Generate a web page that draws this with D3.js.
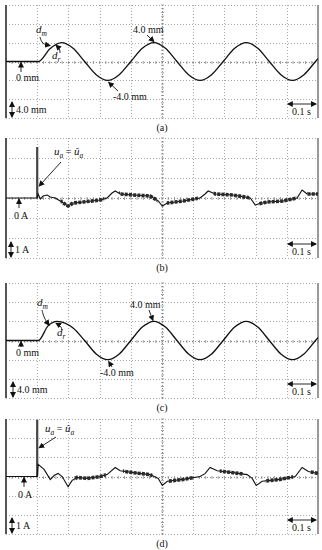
<!DOCTYPE html>
<html>
<head>
<meta charset="utf-8">
<script src="https://cdn.jsdelivr.net/npm/d3@7"></script>
<style>
  body { margin: 0; background: #fff; }
  svg text { font-family: "Liberation Serif", "DejaVu Serif", serif; font-size: 10px; fill: #111; }
</style>
</head>
<body>
<div class="chart"></div>
<script>
// grid divisions: 0.1 s per division
var timeTicks = [-0.1, 0, 0.1, 0.2, 0.3, 0.4, 0.5, 0.6, 0.7, 0.8, 0.9];
var posTicks = [-12, -8, -4, 0, 4, 8, 12];   // mm, 4.0 mm / div
var curTicks = [-3, -2, -1, 0, 1, 2, 3];     // A, 1 A / div

// (a) displacement, mm
var posTimeA = [-0.1, 0.004, 0.041, 0.078, 0.115, 0.152, 0.189, 0.226, 0.263, 0.300, 0.337, 0.374, 0.411, 0.448,
  0.485, 0.522, 0.559, 0.596, 0.633, 0.670, 0.707, 0.744, 0.781, 0.818, 0.855, 0.892, 0.9];
var posA = [0, 0, 2.7, 4.0, 2.8, 0, -2.8, -4.0, -2.8, 0, 2.8, 4.0, 2.8, 0,
  -2.8, -4.0, -2.8, 0, 2.8, 4.0, 2.8, 0, -2.8, -4.0, -2.8, 0, 0.6];

// (c) displacement, mm
var posTimeC = [-0.1, 0.004, 0.034, 0.064, 0.115, 0.152, 0.189, 0.226, 0.263, 0.300, 0.337, 0.374, 0.411, 0.448,
  0.485, 0.522, 0.559, 0.596, 0.633, 0.670, 0.707, 0.744, 0.781, 0.818, 0.855, 0.892, 0.9];
var posC = [0, 0, 3.0, 4.0, 2.6, 0, -2.8, -4.0, -2.8, 0, 2.8, 4.0, 2.8, 0,
  -2.8, -4.0, -2.8, 0, 2.8, 4.0, 2.8, 0, -2.8, -4.0, -2.8, 0, 0.6];

// (b) current, A
var curTimeB = [-0.1, 0, 0.003, 0.010, 0.019, 0.032, 0.042, 0.058, 0.074, 0.099, 0.115, 0.147, 0.202, 0.224, 0.240,
  0.250, 0.266, 0.308, 0.362, 0.388, 0.401, 0.417, 0.468, 0.522, 0.538, 0.548, 0.571, 0.628, 0.683, 0.699,
  0.708, 0.737, 0.788, 0.833, 0.849, 0.865, 0.9];
var curB = [0, 0, 0.2, -0.05, 0.1, 0.15, 0.05, 0, -0.15, -0.4, -0.25, -0.2, -0.1, 0, 0.25,
  0.35, 0.2, 0.15, 0.1, -0.15, -0.4, -0.25, -0.15, 0, 0.2, 0.35, 0.2, 0.15, 0, -0.35,
  -0.3, -0.2, -0.15, 0, 0.4, 0.2, 0.2];
var spikeB = 2.55;
var noisyB = [[0.075, 0.215], [0.262, 0.385], [0.415, 0.515], [0.565, 0.68], [0.71, 0.83], [0.865, 0.9]];

// (d) current, A
var curTimeD = [-0.1, 0, 0.003, 0.022, 0.042, 0.054, 0.067, 0.080, 0.099, 0.112, 0.128, 0.160, 0.202, 0.224, 0.250,
  0.266, 0.308, 0.362, 0.388, 0.401, 0.417, 0.468, 0.522, 0.538, 0.554, 0.577, 0.628, 0.673, 0.689, 0.702,
  0.721, 0.779, 0.827, 0.849, 0.869, 0.9];
var curD = [0, 0, 0.63, 0.37, -0.16, 0.05, 0.16, 0, -0.53, -0.2, -0.05, -0.1, 0, 0.1, 0.47,
  0.3, 0.2, 0.1, -0.1, -0.47, -0.25, -0.15, 0, 0.15, 0.47, 0.3, 0.2, 0.1, -0.1, -0.47,
  -0.25, -0.15, 0, 0.47, 0.26, 0.16];
var spikeD = 2.95;
var noisyD = [[0.12, 0.22], [0.275, 0.37], [0.42, 0.5], [0.585, 0.66], [0.73, 0.82], [0.875, 0.9]];

const svg = d3.select('.chart')
  .append('svg')
    .attr('width', 322)
    .attr('height', 550)
    .style('background', 'white');

const defs = svg.append('defs');
defs.append('marker')
    .attr('id', 'ah')
    .attr('markerUnits', 'userSpaceOnUse')
    .attr('markerWidth', 6).attr('markerHeight', 6)
    .attr('refX', 5).attr('refY', 3)
    .attr('orient', 'auto-start-reverse')
  .append('path')
    .attr('d', 'M0,0 L6,3 L0,6 z')
    .attr('fill', '#111');

const x = d3.scaleLinear().domain([-0.1, 0.9]).range([6, 318]);

function arrow(g, pts, both) {
  g.append('path')
    .attr('d', d3.line().curve(d3.curveBasis)(pts))
    .attr('fill', 'none')
    .attr('stroke', '#111')
    .attr('stroke-width', 0.9)
    .attr('marker-end', 'url(#ah)')
    .attr('marker-start', both ? 'url(#ah)' : null);
}

function sub(g, px, py, main, low) {
  const t = g.append('text').attr('x', px).attr('y', py);
  t.append('tspan').style('font-style', 'italic').style('font-size', '11px').text(main);
  t.append('tspan').attr('dy', 3).style('font-style', 'italic').style('font-size', '7.5px').text(low);
  return t;
}

function panel(cfg) {
  const g = svg.append('g');
  const y = d3.scaleLinear().domain(cfg.domain).range([cfg.bottom, cfg.top]);
  const mid = (cfg.domain[0] + cfg.domain[1]) / 2;

  // dotted grid
  g.selectAll('.vg').data(timeTicks.slice(1, -1)).enter()
    .append('line')
      .attr('x1', d => Math.round(x(d)) + 0.5).attr('x2', d => Math.round(x(d)) + 0.5)
      .attr('y1', cfg.top).attr('y2', cfg.bottom)
      .attr('stroke', d => d === 0.4 ? '#888' : '#a8a8a8')
      .attr('stroke-dasharray', '1,2');
  g.selectAll('.hg').data(cfg.ticks).enter()
    .append('line')
      .attr('x1', x(-0.1)).attr('x2', x(0.9))
      .attr('y1', d => Math.round(y(d)) + 0.5).attr('y2', d => Math.round(y(d)) + 0.5)
      .attr('stroke', d => d === mid ? '#888' : '#a8a8a8')
      .attr('stroke-dasharray', '1,2');

  // minor ticks on the centre lines
  const step = (cfg.ticks[1] - cfg.ticks[0]) / 5;
  const vMinor = d3.range(cfg.domain[0], cfg.domain[1] + step / 2, step);
  const tMinor = d3.range(-0.1, 0.9001, 0.02);
  const cy = Math.round(y(mid)) + 0.5, cx = Math.round(x(0.4)) + 0.5;
  g.selectAll('.tm').data(tMinor).enter()
    .append('line')
      .attr('x1', d => x(d)).attr('x2', d => x(d))
      .attr('y1', cy - 1.5).attr('y2', cy + 1.5)
      .attr('stroke', '#888').attr('stroke-width', 0.8);
  g.selectAll('.vm').data(vMinor).enter()
    .append('line')
      .attr('x1', cx - 1.5).attr('x2', cx + 1.5)
      .attr('y1', d => y(d)).attr('y2', d => y(d))
      .attr('stroke', '#888').attr('stroke-width', 0.8);

  // side borders
  g.append('line').attr('x1', x(-0.1)).attr('x2', x(-0.1)).attr('y1', cfg.top).attr('y2', cfg.bottom)
    .attr('stroke', '#555').attr('stroke-width', 2);
  g.append('line').attr('x1', x(0.9)).attr('x2', x(0.9)).attr('y1', cfg.top).attr('y2', cfg.bottom)
    .attr('stroke', '#777').attr('stroke-width', 1.5);

  const pts = cfg.time.map((t, i) => [t, cfg.values[i]]);
  const line = d3.line()
    .x(d => x(d[0])).y(d => y(d[1]))
    .curve(cfg.smooth ? d3.curveMonotoneX : d3.curveLinear);

  if (cfg.spike) {
    g.append('line')
      .attr('x1', x(0)).attr('x2', x(0))
      .attr('y1', y(0)).attr('y2', y(cfg.spike))
      .attr('stroke', '#444').attr('stroke-width', 2.2);
  }

  g.append('path')
    .attr('d', line(pts))
    .attr('fill', 'none')
    .attr('stroke', '#111')
    .attr('stroke-width', cfg.smooth ? 1.3 : 1.1);

  if (cfg.noisy) {
    const clip = defs.append('clipPath').attr('id', 'clip-' + cfg.id);
    clip.selectAll('rect').data(cfg.noisy).enter()
      .append('rect')
        .attr('x', d => x(d[0])).attr('width', d => x(d[1]) - x(d[0]))
        .attr('y', cfg.top).attr('height', cfg.bottom - cfg.top);
    g.append('path')
      .attr('d', line(pts))
      .attr('fill', 'none')
      .attr('clip-path', 'url(#clip-' + cfg.id + ')')
      .attr('stroke', '#2a2a2a')
      .attr('stroke-width', 3.6)
      .attr('stroke-dasharray', '3,1.2');
  }

  // scale marks: amplitude per div and time per div
  const sx = cfg.scaleX;
  arrow(g, [[sx, cfg.bottom - 16], [sx, cfg.bottom - 1]], true);
  g.append('text').attr('x', sx + 4).attr('y', cfg.bottom - 5).text(cfg.perDiv);
  arrow(g, [[x(0.8) + 1, cfg.bottom - 14], [x(0.9) - 2, cfg.bottom - 14]], true);
  g.append('text').attr('x', 292).attr('y', cfg.bottom - 3).text('0.1 s');

  g.append('text')
    .attr('x', 162).attr('y', cfg.bottom + 13)
    .attr('text-anchor', 'middle')
    .text('(' + cfg.id + ')');

  cfg.notes(g, y);
}

panel({
  id: 'a', top: 5, bottom: 118, domain: [-12, 12], ticks: posTicks,
  time: posTimeA, values: posA, smooth: true, scaleX: 12, perDiv: '4.0 mm',
  notes: function(g, y) {
    sub(g, 36, 33, 'd', 'm');
    arrow(g, [[40, 37], [42, 44], [50, y(3.4)]]);
    sub(g, 52, 59, 'd', 'r');
    arrow(g, [[60, 53], [60, 49], [56, y(3.7) + 1]]);
    g.append('text').attr('x', 133).attr('y', 33).text('4.0 mm');
    arrow(g, [[147, 35], [x(0.374), y(4) - 1]]);
    g.append('text').attr('x', 113).attr('y', 100).text('-4.0 mm');
    arrow(g, [[118, 91], [x(0.226) + 1, y(-4) + 2]]);
    g.append('text').attr('x', 16).attr('y', 81).text('0 mm');
    arrow(g, [[21, 72], [21, y(0) + 1]]);
  }
});

panel({
  id: 'b', top: 138, bottom: 258, domain: [-3, 3], ticks: curTicks,
  time: curTimeB, values: curB, smooth: false, spike: spikeB, noisy: noisyB,
  scaleX: 11, perDiv: '1 A',
  notes: function(g, y) {
    const t = sub(g, 54, 155, 'u', 'a');
    t.append('tspan').attr('dy', -3).style('font-size', '10px').text(' = ');
    t.append('tspan').style('font-style', 'italic').style('font-size', '11px').text('û');
    t.append('tspan').attr('dy', 3).style('font-style', 'italic').style('font-size', '7.5px').text('a');
    arrow(g, [[61, 162], [x(0) + 2, y(0.6)]]);
    g.append('text').attr('x', 14).attr('y', 219).text('0 A');
    arrow(g, [[19, 208], [19, y(0) + 1]]);
  }
});

panel({
  id: 'c', top: 283, bottom: 398, domain: [-12, 12], ticks: posTicks,
  time: posTimeC, values: posC, smooth: true, scaleX: 13, perDiv: '4.0 mm',
  notes: function(g, y) {
    sub(g, 37, 306, 'd', 'm');
    arrow(g, [[42, 310], [44, 318], [49, y(3.2)]]);
    sub(g, 57, 336, 'd', 'r');
    arrow(g, [[62, 330], [61, 326], [56, y(3.8) + 1]]);
    g.append('text').attr('x', 130).attr('y', 308).text('4.0 mm');
    arrow(g, [[149, 310], [x(0.374) - 1, y(4) - 1]]);
    g.append('text').attr('x', 100).attr('y', 376).text('-4.0 mm');
    arrow(g, [[112, 367], [x(0.226) + 1, y(-4) + 2]]);
    g.append('text').attr('x', 16).attr('y', 356).text('0 mm');
    arrow(g, [[21, 347], [21, y(0) + 1]]);
  }
});

panel({
  id: 'd', top: 419, bottom: 534, domain: [-3, 3], ticks: curTicks,
  time: curTimeD, values: curD, smooth: false, spike: spikeD, noisy: noisyD,
  scaleX: 12, perDiv: '1 A',
  notes: function(g, y) {
    const t = sub(g, 45, 432, 'u', 'a');
    t.append('tspan').attr('dy', -3).style('font-size', '10px').text(' = ');
    t.append('tspan').style('font-style', 'italic').style('font-size', '11px').text('û');
    t.append('tspan').attr('dy', 3).style('font-style', 'italic').style('font-size', '7.5px').text('a');
    arrow(g, [[56, 437], [x(0) + 2, y(1.5)]]);
    g.append('text').attr('x', 18).attr('y', 498).text('0 A');
    arrow(g, [[24, 487], [24, y(0) + 1]]);
  }
});
</script>
</body>
</html>
